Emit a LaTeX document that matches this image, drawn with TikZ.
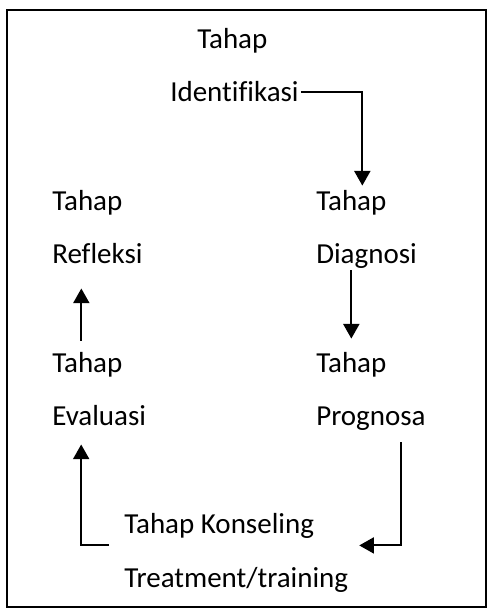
\documentclass[tikz,border=0pt]{standalone}
\usepackage{fontspec}
\setmainfont{Carlito}[Ligatures=NoCommon]
\usepackage{tikz}
\usetikzlibrary{positioning,calc,arrows.meta}

\begin{document}
\begin{tikzpicture}[
    x=0.75pt, y=-0.75pt,
    lbl/.style={font=\fontsize{21.75}{26}\selectfont, inner sep=0pt, anchor=base west},
    frame/.style={draw, line width=1.5pt},
    arrow/.style={-{Triangle[width=12pt,length=11pt]}, line width=1.5pt}
]
\useasboundingbox (0,0) rectangle (488,610);

% Frame
\draw[frame] (7,10) rectangle (486,607);

% Stages
\node[lbl] (t1) at (197,49) {Tahap};
\node[lbl] (ident) at (170,102) {Identifikasi};
\node[lbl] (t2) at (316,210) {Tahap};
\node[lbl] (diag) at (316,263) {Diagnosi};
\node[lbl] (t3) at (316,372) {Tahap};
\node[lbl] (prog) at (316,425) {Prognosa};
\node[lbl] (konsel) at (124,533) {Tahap Konseling};
\node[lbl] (treat) at (124,587) {Treatment/training};
\node[lbl] (t4) at (52,372) {Tahap};
\node[lbl] (eval) at (52,425) {Evaluasi};
\node[lbl] (t5) at (52,210) {Tahap};
\node[lbl] (refl) at (52,263) {Refleksi};

% Arrows
\draw[arrow] ($(ident.east)+(2,0)$) -| ($(t2.north)+(11,-4)$);
\draw[arrow] ($(diag.south -| t3.north)+(0,2)$) -- ($(t3.north)+(0,-13)$);
\draw[arrow] ($(prog.south)+(30,12)$) |- ($(konsel.east)+(45,20)$);
\draw[arrow] ($(konsel.west)+(-15,20)$) -| ($(eval.south)+(-18,19)$);
\draw[arrow] ($(t4.north)+(-6,-11)$) -- ($(t4.north |- refl.south)+(-6,25)$);

\end{tikzpicture}
\end{document}
